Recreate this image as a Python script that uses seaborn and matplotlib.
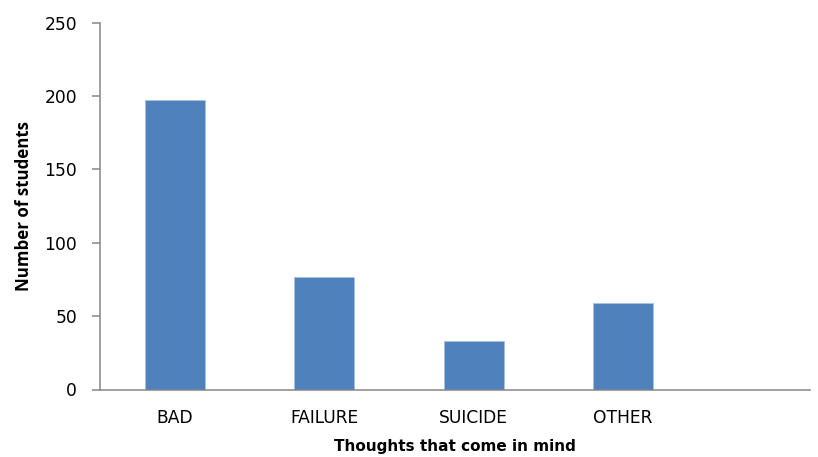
import matplotlib
matplotlib.use("Agg")
import matplotlib.pyplot as plt
import seaborn as sns
import pandas as pd

categories = ["BAD", "FAILURE", "SUICIDE", "OTHER"]
students = [197, 77, 33, 59]
y_ticks = [0, 50, 100, 150, 200, 250]

sns.set_theme(style="white")
plt.rcParams["font.family"] = ["DejaVu Sans"]
plt.rcParams["text.color"] = "black"
plt.rcParams["axes.labelcolor"] = "black"

df = pd.DataFrame({"thought": categories, "count": students})

fig = plt.figure(figsize=(8.18, 4.57), dpi=100)
ax = fig.add_axes([100 / 818, 67.5 / 457, 710 / 818, 366.8 / 457])

sns.barplot(data=df, x="thought", y="count", order=categories, color="#4F81BD",
            saturation=1, width=0.4, edgecolor="#A9C1E0", linewidth=0.6, ax=ax)

ax.set_xlim(-0.5, 4.25)
ax.set_ylim(0, 250)
ax.set_yticks(y_ticks)

for side in ("top", "right"):
    ax.spines[side].set_visible(False)
for side in ("left", "bottom"):
    ax.spines[side].set_color("#868686")
    ax.spines[side].set_linewidth(1.1)

ax.tick_params(axis="y", which="major", left=True, length=6, width=1.1,
               color="#868686", pad=10.5, labelsize=12.3, labelcolor="black")
ax.tick_params(axis="x", which="major", bottom=False, length=0, pad=14,
               labelsize=12.3, labelcolor="black")

ax.set_ylabel("Number of students", fontsize=12.2, fontweight="bold",
              family=["Open Sans", "DejaVu Sans"], color="black", labelpad=8.5)
ax.set_xlabel("Thoughts that come in mind", fontsize=11, fontweight="bold",
              color="black", labelpad=8.5)

fig.savefig("out.png", dpi=100)
